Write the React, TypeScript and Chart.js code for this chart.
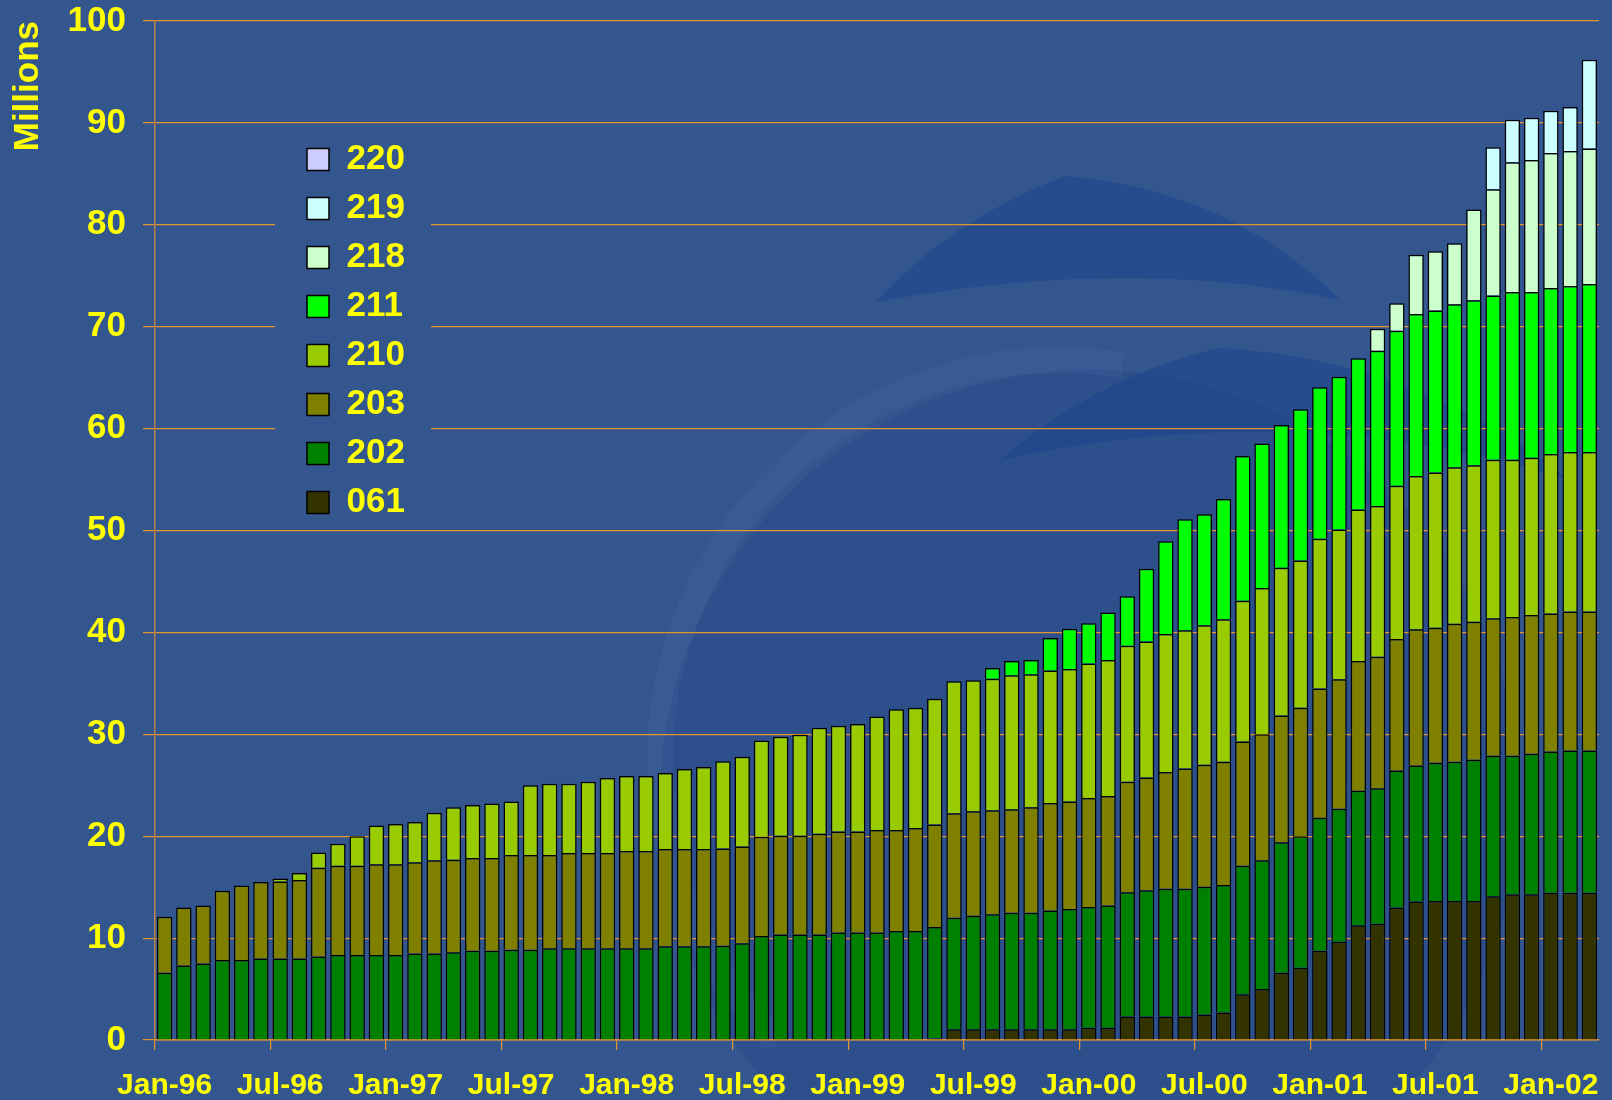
import React, { useEffect, useRef } from 'react';
import { Chart, registerables } from 'chart.js';

Chart.register(...registerables);

// Category labels (one per month, Jan-96 .. Mar-02)
const months = [
  'Jan-96', 'Feb-96', 'Mar-96', 'Apr-96', 'May-96', 'Jun-96',
  'Jul-96', 'Aug-96', 'Sep-96', 'Oct-96', 'Nov-96', 'Dec-96',
  'Jan-97', 'Feb-97', 'Mar-97', 'Apr-97', 'May-97', 'Jun-97',
  'Jul-97', 'Aug-97', 'Sep-97', 'Oct-97', 'Nov-97', 'Dec-97',
  'Jan-98', 'Feb-98', 'Mar-98', 'Apr-98', 'May-98', 'Jun-98',
  'Jul-98', 'Aug-98', 'Sep-98', 'Oct-98', 'Nov-98', 'Dec-98',
  'Jan-99', 'Feb-99', 'Mar-99', 'Apr-99', 'May-99', 'Jun-99',
  'Jul-99', 'Aug-99', 'Sep-99', 'Oct-99', 'Nov-99', 'Dec-99',
  'Jan-00', 'Feb-00', 'Mar-00', 'Apr-00', 'May-00', 'Jun-00',
  'Jul-00', 'Aug-00', 'Sep-00', 'Oct-00', 'Nov-00', 'Dec-00',
  'Jan-01', 'Feb-01', 'Mar-01', 'Apr-01', 'May-01', 'Jun-01',
  'Jul-01', 'Aug-01', 'Sep-01', 'Oct-01', 'Nov-01', 'Dec-01',
  'Jan-02', 'Feb-02', 'Mar-02',
];

// Series values (millions), stacked bottom to top
const s061 = [
  0, 0, 0, 0, 0, 0,
  0, 0, 0, 0, 0, 0,
  0, 0, 0, 0, 0, 0,
  0, 0, 0, 0, 0, 0,
  0, 0, 0, 0, 0, 0,
  0, 0, 0, 0, 0, 0,
  0, 0, 0, 0, 0.15, 1.05,
  1.05, 1.05, 1.05, 1.05, 1.05, 1.05,
  1.2, 1.2, 2.3, 2.3, 2.3, 2.3,
  2.5, 2.7, 4.5, 5.0, 6.6, 7.1,
  8.75, 9.65, 11.25, 11.4, 13.0, 13.6,
  13.65, 13.65, 13.65, 14.1, 14.3, 14.3,
  14.45, 14.45, 14.45,
];

const s202 = [
  6.6, 7.3, 7.5, 7.85, 7.85, 8.0,
  8.0, 8.0, 8.2, 8.35, 8.35, 8.35,
  8.35, 8.5, 8.5, 8.6, 8.75, 8.75,
  8.85, 8.85, 9.0, 9.0, 9.0, 9.0,
  9.0, 9.0, 9.2, 9.2, 9.2, 9.25,
  9.5, 10.2, 10.35, 10.35, 10.35, 10.55,
  10.55, 10.55, 10.7, 10.7, 10.95, 10.95,
  11.15, 11.3, 11.45, 11.45, 11.65, 11.8,
  11.85, 12.0, 12.2, 12.4, 12.55, 12.55,
  12.55, 12.5, 12.6, 12.65, 12.8, 12.9,
  13.05, 13.05, 13.2, 13.3, 13.45, 13.35,
  13.55, 13.65, 13.85, 13.8, 13.6, 13.8,
  13.85, 13.95, 13.95,
];

const s203 = [
  5.5, 5.7, 5.7, 6.8, 7.3, 7.5,
  7.55, 7.7, 8.7, 8.75, 8.75, 8.9,
  8.9, 8.95, 9.15, 9.1, 9.1, 9.1,
  9.3, 9.3, 9.15, 9.35, 9.35, 9.35,
  9.55, 9.55, 9.55, 9.55, 9.55, 9.55,
  9.5, 9.75, 9.7, 9.7, 9.9, 9.9,
  9.9, 10.05, 9.9, 10.1, 10.05, 10.25,
  10.25, 10.2, 10.15, 10.35, 10.55, 10.55,
  10.7, 10.75, 10.85, 11.05, 11.45, 11.8,
  11.95, 12.1, 12.2, 12.35, 12.45, 12.6,
  12.7, 12.7, 12.75, 12.9, 12.9, 13.35,
  13.25, 13.55, 13.55, 13.5, 13.6, 13.6,
  13.55, 13.65, 13.65,
];

const s210 = [
  0, 0, 0, 0, 0, 0,
  0.3, 0.7, 1.5, 2.15, 2.9, 3.8,
  3.95, 3.95, 4.65, 5.15, 5.2, 5.35,
  5.25, 6.85, 7.0, 6.8, 7.0, 7.35,
  7.35, 7.35, 7.45, 7.85, 8.05, 8.55,
  8.8, 9.45, 9.7, 9.9, 10.4, 10.4,
  10.55, 11.15, 11.85, 11.8, 12.35, 12.95,
  12.85, 12.9, 13.15, 13.05, 13.0, 13.0,
  13.2, 13.35, 13.35, 13.35, 13.55, 13.55,
  13.7, 14.0, 13.8, 14.35, 14.5, 14.45,
  14.7, 14.7, 14.85, 14.8, 15.05, 15.05,
  15.25, 15.35, 15.35, 15.55, 15.45, 15.45,
  15.65, 15.65, 15.65,
];

const s211 = [
  0, 0, 0, 0, 0, 0,
  0, 0, 0, 0, 0, 0,
  0, 0, 0, 0, 0, 0,
  0, 0, 0, 0, 0, 0,
  0, 0, 0, 0, 0, 0,
  0, 0, 0, 0, 0, 0,
  0, 0, 0, 0, 0, 0,
  0, 1.05, 1.4, 1.4, 3.2, 3.95,
  3.95, 4.65, 4.85, 7.15, 9.1, 10.9,
  10.9, 11.8, 14.2, 14.2, 14.0, 14.85,
  14.85, 15.0, 14.85, 15.25, 15.2, 15.9,
  15.9, 16.0, 16.2, 16.1, 16.45, 16.25,
  16.3, 16.3, 16.5,
];

const s218 = [
  0, 0, 0, 0, 0, 0,
  0, 0, 0, 0, 0, 0,
  0, 0, 0, 0, 0, 0,
  0, 0, 0, 0, 0, 0,
  0, 0, 0, 0, 0, 0,
  0, 0, 0, 0, 0, 0,
  0, 0, 0, 0, 0, 0,
  0, 0, 0, 0, 0, 0,
  0, 0, 0, 0, 0, 0,
  0, 0, 0, 0, 0, 0,
  0, 0, 0, 2.15, 2.7, 5.8,
  5.8, 6.0, 8.9, 10.45, 12.75, 12.95,
  13.25, 13.25, 13.3,
];

const s219 = [
  0, 0, 0, 0, 0, 0,
  0, 0, 0, 0, 0, 0,
  0, 0, 0, 0, 0, 0,
  0, 0, 0, 0, 0, 0,
  0, 0, 0, 0, 0, 0,
  0, 0, 0, 0, 0, 0,
  0, 0, 0, 0, 0, 0,
  0, 0, 0, 0, 0, 0,
  0, 0, 0, 0, 0, 0,
  0, 0, 0, 0, 0, 0,
  0, 0, 0, 0, 0, 0,
  0, 0, 0, 4.1, 4.15, 4.15,
  4.15, 4.3, 8.7,
];

const s220 = [
  0, 0, 0, 0, 0, 0,
  0, 0, 0, 0, 0, 0,
  0, 0, 0, 0, 0, 0,
  0, 0, 0, 0, 0, 0,
  0, 0, 0, 0, 0, 0,
  0, 0, 0, 0, 0, 0,
  0, 0, 0, 0, 0, 0,
  0, 0, 0, 0, 0, 0,
  0, 0, 0, 0, 0, 0,
  0, 0, 0, 0, 0, 0,
  0, 0, 0, 0, 0, 0,
  0, 0, 0, 0, 0, 0,
  0, 0, 0,
];

const seriesNames = ['061', '202', '203', '210', '211', '218', '219', '220'];
const seriesData = [s061, s202, s203, s210, s211, s218, s219, s220];
const seriesColors = ['#333300', '#008000', '#808000', '#99CC00', '#00FF00', '#CCFFCC', '#CCFFFF', '#CCCCFF'];

const yTicks = [0, 10, 20, 30, 40, 50, 60, 70, 80, 90, 100];

const BG = '#34568F';
const GRID = '#E3952F';
const YELLOW = '#FFFF00';
const FONT = "'Liberation Sans', Arial, Helvetica, sans-serif";

const backgroundPlugin = {
  id: 'slideBackground',
  beforeDraw(chart: any) {
    const ctx = chart.ctx;
    ctx.save();
    ctx.fillStyle = BG;
    ctx.fillRect(0, 0, chart.width, chart.height);
    // subtle swirl decoration
    ctx.fillStyle = 'rgba(28, 66, 138, 0.28)';
    ctx.beginPath();
    ctx.arc(1090, 800, 430, 0, Math.PI * 2);
    ctx.fill();
    ctx.strokeStyle = 'rgba(120, 150, 205, 0.08)';
    ctx.lineWidth = 26;
    ctx.beginPath();
    ctx.arc(1060, 760, 400, Math.PI * 0.75, Math.PI * 1.55);
    ctx.stroke();
    ctx.fillStyle = 'rgba(26, 66, 140, 0.5)';
    ctx.beginPath();
    ctx.moveTo(876, 302);
    ctx.quadraticCurveTo(950, 220, 1065, 176);
    ctx.quadraticCurveTo(1230, 190, 1340, 300);
    ctx.quadraticCurveTo(1130, 255, 876, 302);
    ctx.closePath();
    ctx.fill();
    ctx.beginPath();
    ctx.moveTo(1000, 460);
    ctx.quadraticCurveTo(1100, 375, 1220, 348);
    ctx.quadraticCurveTo(1420, 360, 1570, 480);
    ctx.quadraticCurveTo(1300, 395, 1000, 460);
    ctx.closePath();
    ctx.fill();
    ctx.restore();
  },
};

const legendPlacePlugin = {
  id: 'legendPlace',
  afterLayout(chart: any) {
    const lg = chart.legend;
    if (!lg) return;
    lg.left = 293;
    lg.top = 128;
  },
  beforeDatasetsDraw(chart: any) {
    const ctx = chart.ctx;
    const lg = chart.legend;
    ctx.save();
    ctx.fillStyle = BG;
    ctx.fillRect(275, 135, 156, 386);
    ctx.restore();
    if (lg) lg.draw();
  },
};

export default function App() {
  const canvasRef = useRef<HTMLCanvasElement | null>(null);

  useEffect(() => {
    if (!canvasRef.current) return;
    const datasets = seriesNames.map((name, i) => ({
      label: name,
      data: seriesData[i],
      backgroundColor: seriesColors[i],
      borderColor: '#000000',
      borderWidth: 1.5,
      barPercentage: 0.8,
      categoryPercentage: 1.0,
      inflateAmount: 0,
    }));

    const chart = new Chart(canvasRef.current, {
      type: 'bar',
      data: { labels: months, datasets },
      plugins: [backgroundPlugin, legendPlacePlugin],
      options: {
        responsive: false,
        animation: false,
        devicePixelRatio: 1,
        layout: { padding: { left: 0, right: 13, top: 21, bottom: 0 } },
        plugins: {
          legend: {
            position: 'chartArea' as any,
            align: 'start',
            reverse: true,
            labels: {
              color: YELLOW,
              font: { family: FONT, size: 35, weight: 'bold' },
              boxWidth: 22,
              boxHeight: 22,
              padding: 14,
            },
          },
          tooltip: { enabled: false },
          title: { display: false },
        },
        scales: {
          x: {
            stacked: true,
            offset: true,
            grid: {
              offset: true,
              drawOnChartArea: false,
              drawTicks: true,
              tickLength: 10,
              color: (c: any) => (c.index % 6 === 0 ? GRID : 'rgba(0,0,0,0)'),
              lineWidth: 1.2,
            },
            border: { display: true, color: GRID, width: 1.5 },
            ticks: {
              autoSkip: false,
              maxRotation: 0,
              minRotation: 0,
              padding: 18,
              color: YELLOW,
              font: { family: FONT, size: 30, weight: 'bold' },
              callback: function (this: any, value: any, index: number) {
                return index % 6 === 0 ? months[index] : '';
              },
            },
            afterFit: (scale: any) => {
              scale.height = 60;
              scale.paddingLeft = 0;
              scale.paddingRight = 0;
            },
          },
          y: {
            stacked: true,
            min: 0,
            max: 100,
            afterBuildTicks: (scale: any) => {
              scale.ticks = yTicks.map((v) => ({ value: v }));
            },
            grid: {
              color: GRID,
              lineWidth: 1.2,
              drawTicks: true,
              tickLength: 12,
            },
            border: { display: true, color: '#B98547', width: 1.5 },
            ticks: {
              padding: 17,
              color: YELLOW,
              font: { family: FONT, size: 35, weight: 'bold' },
            },
            title: {
              display: true,
              text: 'Millions',
              align: 'end',
              color: YELLOW,
              font: { family: FONT, size: 35, weight: 'bold' },
              padding: { top: 7, bottom: 20 },
            },
            afterFit: (scale: any) => {
              scale.width = 155;
              scale.paddingTop = 0;
              scale.paddingBottom = 0;
            },
          },
        },
      },
    } as any);

    return () => {
      chart.destroy();
    };
  }, []);

  return (
    <div style={{ position: 'fixed', left: 0, top: 0, width: 1612, height: 1100, background: BG, overflow: 'hidden' }}>
      <canvas ref={canvasRef} width={1612} height={1100} style={{ display: 'block', width: 1612, height: 1100 }} />
    </div>
  );
}
